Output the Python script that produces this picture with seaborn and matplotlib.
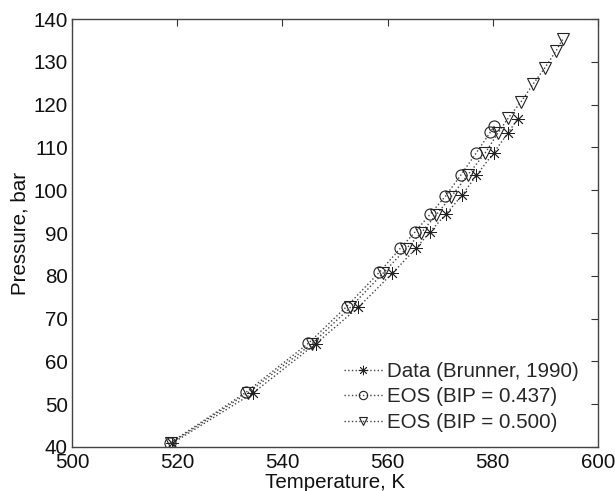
import matplotlib
matplotlib.use("Agg")
import matplotlib.pyplot as plt
import seaborn as sns
import pandas as pd

# Data (Brunner, 1990)
data_T = [519.1, 534.5, 546.3, 554.4, 560.9, 565.4, 568.0, 571.1, 574.2, 576.9, 580.2, 582.9, 584.7]
data_P = [40.9, 52.7, 64.1, 72.6, 80.6, 86.4, 90.2, 94.4, 98.9, 103.5, 108.8, 113.4, 116.6]

# EOS (BIP = 0.437)
eos1_T = [518.6, 533.1, 544.9, 552.2, 558.4, 562.4, 565.2, 568.1, 571.0, 573.9, 576.9, 579.5, 580.3]
eos1_P = [40.9, 52.8, 64.2, 72.8, 80.8, 86.4, 90.2, 94.4, 98.6, 103.5, 108.8, 113.5, 115.0]

# EOS (BIP = 0.500)
eos2_T = [518.8, 533.5, 545.6, 552.9, 559.2, 563.5, 566.3, 569.2, 572.1, 575.2, 578.5, 581.0,
          582.9, 585.4, 587.6, 589.9, 592.0, 593.3]
eos2_P = [40.9, 52.7, 64.1, 72.6, 80.7, 86.3, 89.9, 94.2, 98.5, 103.5, 108.6, 113.4,
          116.8, 120.7, 124.7, 128.6, 132.5, 135.3]

labels = ["Data (Brunner, 1990)", "EOS (BIP = 0.437)", "EOS (BIP = 0.500)"]
x_ticks = [500, 520, 540, 560, 580, 600]
y_ticks = [40, 50, 60, 70, 80, 90, 100, 110, 120, 130, 140]

sns.set_theme(style="white")
plt.rcParams["font.family"] = ["Liberation Sans", "DejaVu Sans"]

fig = plt.figure(figsize=(6.15, 4.91), dpi=100)
ax = fig.add_axes([72/615, 1-447/491, (598-72)/615, (447-19)/491])

FS = 14.8
series = [
    (data_T, data_P, labels[0], (8, 2, 0), 9, 0.6),
    (eos1_T, eos1_P, labels[1], "o", 8, 0.8),
    (eos2_T, eos2_P, labels[2], "v", 8, 0.8),
]
for T, P, lab, mk, ms, mew in series:
    df = pd.DataFrame({"T": T, "P": P})
    sns.lineplot(data=df, x="T", y="P", ax=ax, sort=False, color="#444444",
                 linestyle=":", linewidth=1.0, marker=mk, markersize=ms,
                 markerfacecolor="none", markeredgecolor="#222222",
                 markeredgewidth=mew, label=lab)

ax.set_xlim(500, 600)
ax.set_ylim(40, 140)
ax.set_xticks(x_ticks)
ax.set_yticks(y_ticks)
ax.tick_params(axis="both", direction="in", length=5, width=0.8, color="#333333",
               labelsize=FS, top=True, right=True, pad=3,
               labelcolor="#111111")
ax.tick_params(axis="x", pad=4)
for s in ax.spines.values():
    s.set_color("#444444")
    s.set_linewidth(1.0)
ax.set_xlabel("Temperature, K", fontsize=FS, labelpad=1, color="#111111")
ax.set_ylabel("Pressure, bar", fontsize=FS, labelpad=3, color="#111111")

leg = ax.legend(loc="lower right", frameon=False, fontsize=FS, handlelength=1.9,
                handletextpad=0.2, labelspacing=0.32, borderaxespad=0.5,
                markerscale=0.75, bbox_to_anchor=(0.998, -0.008))

fig.savefig("out.png", dpi=100)
